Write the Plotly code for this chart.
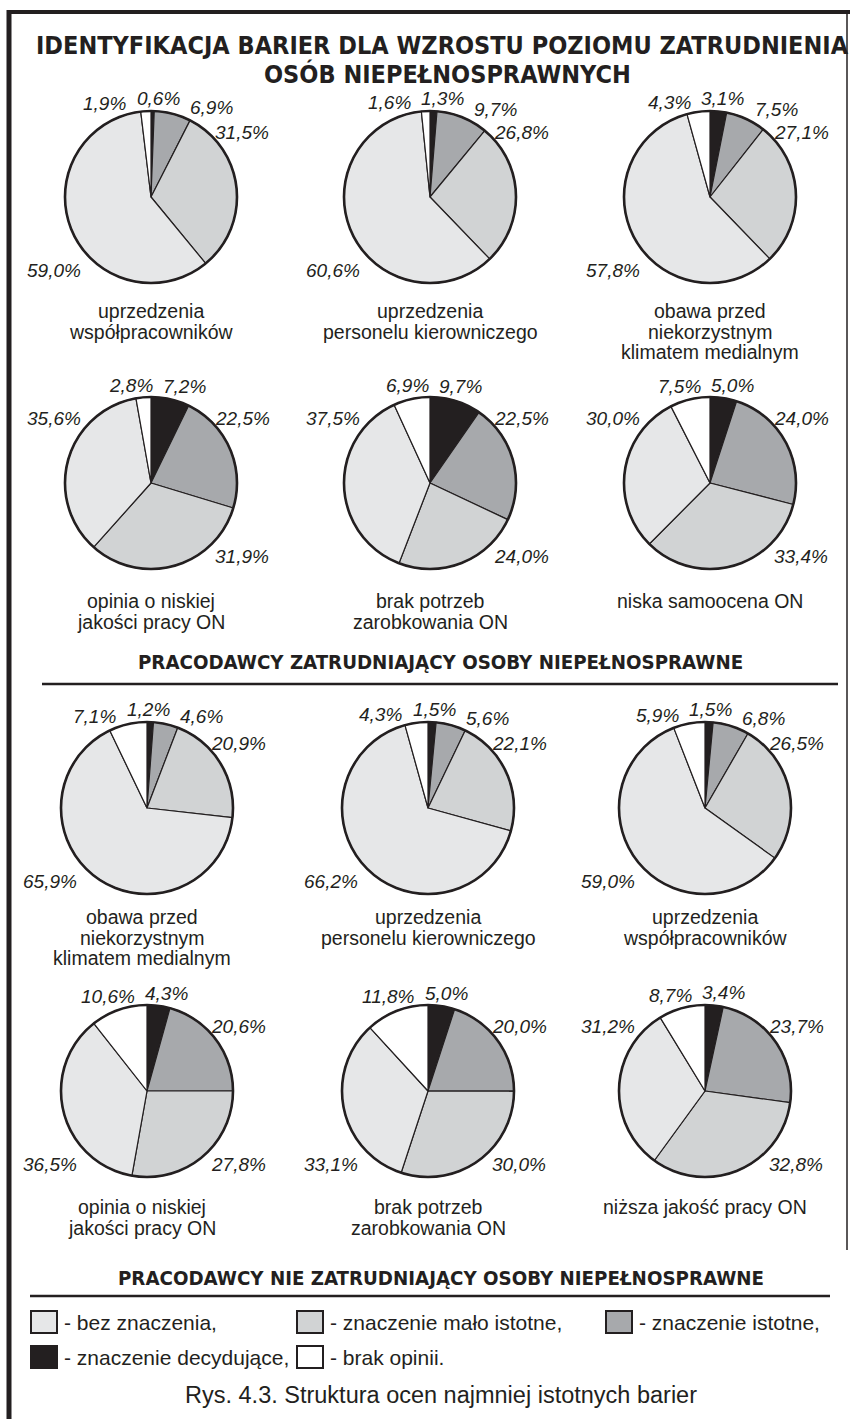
import math
import plotly.graph_objects as go

# ---------------- data ----------------
series_names = ["znaczenie decydujące", "znaczenie istotne", "znaczenie mało istotne",
                "bez znaczenia", "brak opinii"]
categories = [
    "uprzedzenia\nwspółpracowników",
    "uprzedzenia\npersonelu kierowniczego",
    "obawa przed\nniekorzystnym\nklimatem medialnym",
    "opinia o niskiej\njakości pracy ON",
    "brak potrzeb\nzarobkowania ON",
    "niska samoocena ON",
    "obawa przed\nniekorzystnym\nklimatem medialnym",
    "uprzedzenia\npersonelu kierowniczego",
    "uprzedzenia\nwspółpracowników",
    "opinia o niskiej\njakości pracy ON",
    "brak potrzeb\nzarobkowania ON",
    "niższa jakość pracy ON",
]
decydujace    = [0.6, 1.3, 3.1, 7.2, 9.7, 5.0, 1.2, 1.5, 1.5, 4.3, 5.0, 3.4]
istotne       = [6.9, 9.7, 7.5, 22.5, 22.5, 24.0, 4.6, 5.6, 6.8, 20.6, 20.0, 23.7]
malo_istotne  = [31.5, 26.8, 27.1, 31.9, 24.0, 33.4, 20.9, 22.1, 26.5, 27.8, 30.0, 32.8]
bez_znaczenia = [59.0, 60.6, 57.8, 35.6, 37.5, 30.0, 65.9, 66.2, 59.0, 36.5, 33.1, 31.2]
brak_opinii   = [1.9, 1.6, 4.3, 2.8, 6.9, 7.5, 7.1, 4.3, 5.9, 10.6, 11.8, 8.7]

title_text = ["IDENTYFIKACJA BARIER DLA WZROSTU POZIOMU ZATRUDNIENIA", "OSÓB NIEPEŁNOSPRAWNYCH"]
section_titles = ["PRACODAWCY ZATRUDNIAJĄCY OSOBY NIEPEŁNOSPRAWNE",
                  "PRACODAWCY NIE ZATRUDNIAJĄCY OSOBY NIEPEŁNOSPRAWNE"]
legend_labels = ["- bez znaczenia,", "- znaczenie mało istotne,", "- znaczenie istotne,",
                 "- znaczenie decydujące,", "- brak opinii."]
caption = "Rys. 4.3. Struktura ocen najmniej istotnych barier"

# ---------------- styles / layout ----------------
W, H = 850, 1419
INK = "#231f20"
colors = {"znaczenie decydujące": "#231f20", "znaczenie istotne": "#a7a9ac",
          "znaczenie mało istotne": "#d1d3d4", "bez znaczenia": "#e6e7e8",
          "brak opinii": "#ffffff"}
FONT = "Liberation Sans, Arial, sans-serif"
NARROW = "Liberation Sans Narrow, Arial Narrow, DejaVu Sans Condensed, sans-serif"
R = 86
col_x = [[151, 430, 710], [147, 428, 705]]
row_y = [[197, 483], [808, 1091]]
cat_y0 = [[311, 601], [917, 1207]]
LINE_H = 20.5
LBL = 19


def px(x):
    return x / W


def py(y):
    return 1 - y / H


fig = go.Figure()
annotations = []
shapes = []


def text(x, y, s, size, family=FONT, xanchor="center", yanchor="middle", italic=False, bold=False):
    annotations.append(dict(
        x=px(x), y=py(y), xref="paper", yref="paper", text=s, showarrow=False,
        xanchor=xanchor, yanchor=yanchor, borderpad=0,
        font=dict(family=family, size=size, color=INK,
                  style="italic" if italic else "normal",
                  weight="bold" if bold else "normal")))


CW = {",": 0.278, "%": 0.889}


def est_w(s, size):
    return sum(CW.get(ch, 0.556) for ch in s) * size


def fmt(v):
    return f"{v:.1f}".replace(".", ",") + "%"


def place_labels(vals, cx, cy):
    total = sum(vals)
    cum = 0
    items = []
    for v in vals:
        mid = (cum + v / 2) / total * 360
        cum += v
        a = (mid + 180) % 360 - 180
        items.append([v, a])
    top = sorted([it for it in items if abs(it[1]) <= 35], key=lambda t: t[1])
    others = [it for it in items if abs(it[1]) > 35]
    corners = []
    for v, a in others:
        s = fmt(v)
        sx = 1 if math.sin(math.radians(a)) > 0 else -1
        is_top = math.cos(math.radians(a)) > -0.05
        w = est_w(s, LBL)
        x0 = cx + 0.745 * R if sx > 0 else cx - 0.81 * R - w
        yc = cy - 0.75 * R if is_top else cy + 0.85 * R
        corners.append((s, x0, yc, w))
    # top group: relax in pixel space
    ws = [est_w(fmt(v), LBL) for v, _ in top]
    xs = [1.17 * R * math.sin(math.radians(a)) for _, a in top]
    for _ in range(300):
        for k in range(len(xs) - 1):
            need = (ws[k] + ws[k + 1]) / 2 + 10
            gap = xs[k + 1] - xs[k]
            if gap < need:
                d = (need - gap) / 2
                xs[k] -= d
                xs[k + 1] += d
    ry, rx = 1.15 * R, 1.63 * R

    def top_boxes(xs):
        out = []
        for (v, _), x, w in zip(top, xs, ws):
            t = max(0.0, 1 - (x / rx) ** 2)
            yc = cy - ry * math.sqrt(t)
            out.append((fmt(v), cx + x - w / 2, yc, w))
        return out

    def collide(tb, cb):
        for (_, x0, yc, w) in tb:
            for (_, x1, yc1, w1) in cb:
                if x0 < x1 + w1 + 3 and x1 < x0 + w + 3 and abs(yc - yc1) < LBL * 1.13:
                    return True
        return False

    for _ in range(60):
        tb = top_boxes(xs)
        if not collide(tb, corners):
            break
        right = [c for c in corners if c[1] > cx]
        shift = -3 if collide(tb, right) else 3
        xs = [x + shift for x in xs]
    for (s, x0, yc, w) in top_boxes(xs) + corners:
        text(x0 + w / 2, yc, s, LBL, italic=True)


order = [decydujace, istotne, malo_istotne, bez_znaczenia, brak_opinii]
for i in range(12):
    sec = i // 6
    r = (i % 6) // 3
    c = i % 3
    cx, cy = col_x[sec][c], row_y[sec][r]
    vals = [s[i] for s in order]
    fig.add_trace(go.Pie(
        values=vals, labels=series_names, sort=False, direction="clockwise", rotation=0,
        marker=dict(colors=[colors[n] for n in series_names], line=dict(color=INK, width=1.2)),
        textinfo="none", hoverinfo="label+percent", showlegend=False,
        domain=dict(x=[px(cx - R), px(cx + R)], y=[py(cy + R), py(cy - R)])))
    shapes.append(dict(type="circle", xref="paper", yref="paper",
                       x0=px(cx - R), x1=px(cx + R), y0=py(cy + R), y1=py(cy - R),
                       line=dict(color=INK, width=2.6), fillcolor="rgba(0,0,0,0)"))
    place_labels(vals, cx, cy)
    for k, ln in enumerate(categories[i].split("\n")):
        text(cx + (-5 if (sec == 1 and c == 0) else 0), cat_y0[sec][r] + k * LINE_H, ln, 19.5)

# titles
text(443, 45, title_text[0], 25, family=NARROW, bold=True)
text(447, 74, title_text[1], 25, family=NARROW, bold=True)
text(440, 662, section_titles[0], 20.3, family=NARROW, bold=True)
text(441, 1278, section_titles[1], 20.3, family=NARROW, bold=True)
text(441, 1395, caption, 23.5)


def line(x0, y0, x1, y1, w):
    shapes.append(dict(type="line", xref="paper", yref="paper",
                       x0=px(x0), y0=py(y0), x1=px(x1), y1=py(y1),
                       line=dict(color=INK, width=w)))


# frame
line(9, 10, 9, H, 5)
line(7, 12, W, 12, 4)
line(847, 10, 847, 1250, 1.5)
# section rules
line(42, 684, 838, 684, 2.5)
line(30, 1296, 830, 1296, 2.5)

# legend
leg_pos = [(31, 1322), (297, 1322), (606, 1322), (31, 1357), (297, 1357)]
leg_cols = [colors["bez znaczenia"], colors["znaczenie mało istotne"], colors["znaczenie istotne"],
            colors["znaczenie decydujące"], colors["brak opinii"]]
for (bx, by), col, lab in zip(leg_pos, leg_cols, legend_labels):
    shapes.append(dict(type="rect", xref="paper", yref="paper",
                       x0=px(bx), x1=px(bx + 26), y0=py(by + 11), y1=py(by - 11),
                       line=dict(color=INK, width=2), fillcolor=col))
    text(bx + 32, by, lab, 21, xanchor="left")

fig.update_layout(width=W, height=H, margin=dict(l=0, r=0, t=0, b=0),
                  paper_bgcolor="white", plot_bgcolor="white",
                  annotations=annotations, shapes=shapes)
fig.write_html("out.html")
